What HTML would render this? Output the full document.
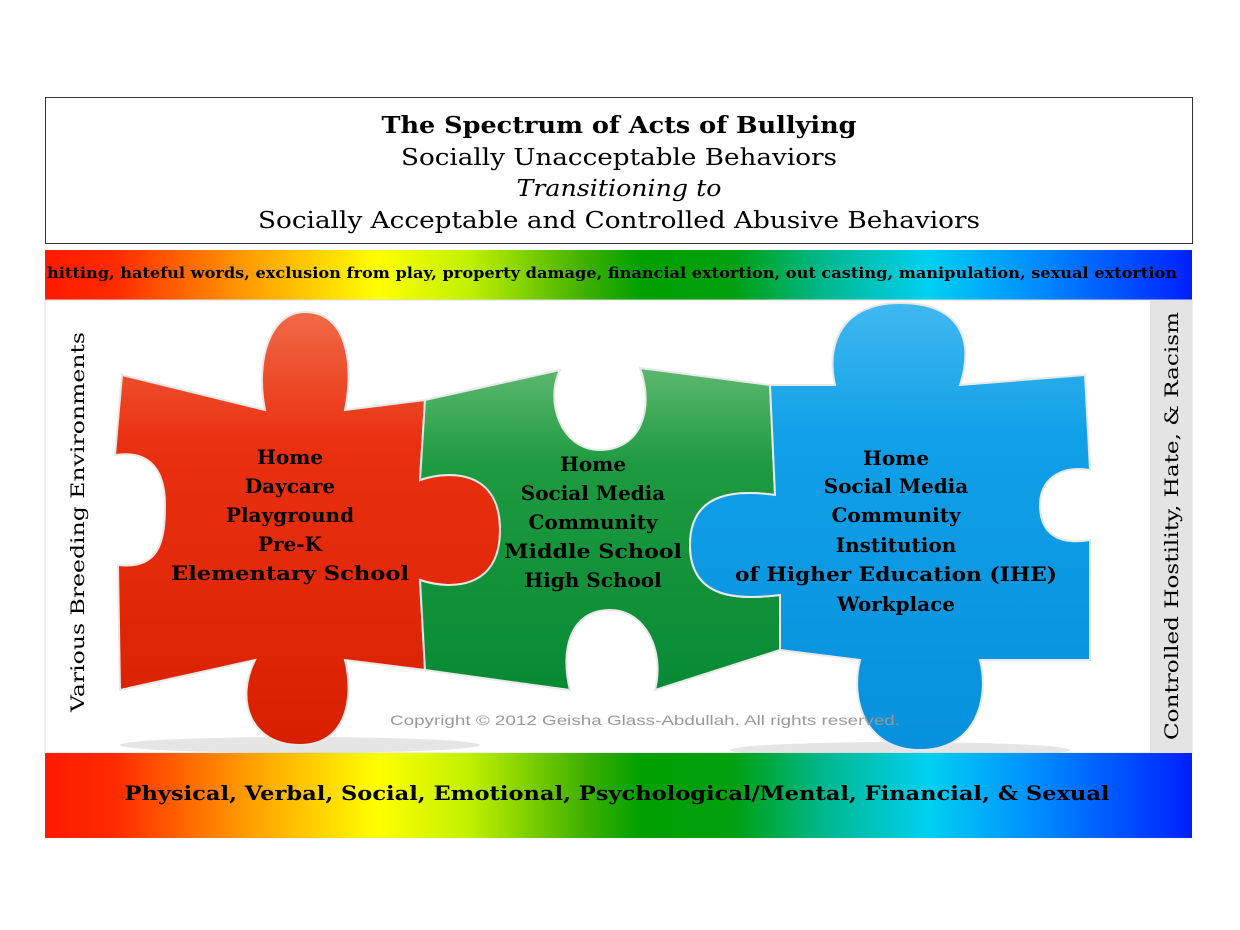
<!DOCTYPE html>
<html><head><meta charset="utf-8"><style>
html,body{margin:0;padding:0;background:#fff;}
svg{display:block;}
text{font-family:"DejaVu Serif","Liberation Serif",serif;}
</style></head><body>
<svg width="1240" height="930" viewBox="0 0 1240 930" xmlns="http://www.w3.org/2000/svg">
<defs>
<linearGradient id="rb" x1="0" x2="1" y1="0" y2="0">
<stop offset="0" stop-color="#ff1a00"/>
<stop offset="0.06" stop-color="#ff2a00"/>
<stop offset="0.18" stop-color="#ffa000"/>
<stop offset="0.29" stop-color="#ffff00"/>
<stop offset="0.37" stop-color="#c0f000"/>
<stop offset="0.47" stop-color="#40b000"/>
<stop offset="0.52" stop-color="#00a000"/>
<stop offset="0.60" stop-color="#00a010"/>
<stop offset="0.68" stop-color="#00b890"/>
<stop offset="0.77" stop-color="#00d0f0"/>
<stop offset="0.86" stop-color="#0090ff"/>
<stop offset="1" stop-color="#0020ff"/>
</linearGradient>
<linearGradient id="gr" x1="0" x2="0" y1="0" y2="1"><stop offset="0" stop-color="#f06a48"/><stop offset="0.3" stop-color="#ea3010"/><stop offset="1" stop-color="#d82000"/></linearGradient>
<linearGradient id="gg" x1="0" x2="0" y1="0" y2="1"><stop offset="0" stop-color="#5cb870"/><stop offset="0.3" stop-color="#1e9a40"/><stop offset="1" stop-color="#088a35"/></linearGradient>
<linearGradient id="gb" x1="0" x2="0" y1="0" y2="1"><stop offset="0" stop-color="#40b8f0"/><stop offset="0.3" stop-color="#10a0e8"/><stop offset="1" stop-color="#0890dc"/></linearGradient>
</defs>
<rect x="45.5" y="97.5" width="1147" height="146" fill="#fff" stroke="#333" stroke-width="1"/>
<text x="619" y="133" font-size="23" font-weight="bold" text-anchor="middle" textLength="475" lengthAdjust="spacingAndGlyphs">The Spectrum of Acts of Bullying</text>
<text x="619" y="165" font-size="23" text-anchor="middle" textLength="436" lengthAdjust="spacingAndGlyphs">Socially Unacceptable Behaviors</text>
<text x="619" y="196" font-size="23" font-style="italic" text-anchor="middle" textLength="205" lengthAdjust="spacingAndGlyphs">Transitioning to</text>
<text x="619" y="228" font-size="23" text-anchor="middle" textLength="722" lengthAdjust="spacingAndGlyphs">Socially Acceptable and Controlled Abusive Behaviors</text>
<rect x="45" y="250" width="1147" height="50" fill="url(#rb)"/>
<text x="612" y="278" font-size="15" font-weight="bold" text-anchor="middle" textLength="1130" lengthAdjust="spacingAndGlyphs">hitting, hateful words, exclusion from play, property damage, financial extortion, out casting, manipulation, sexual extortion</text>
<rect x="45" y="300" width="1147" height="453" fill="#fff" stroke="#ddd"/>
<rect x="1150" y="300" width="42" height="453" fill="#e4e4e4"/>
<ellipse cx="300" cy="745" rx="180" ry="8" fill="#ccc" opacity="0.5"/>
<ellipse cx="900" cy="750" rx="170" ry="8" fill="#ccc" opacity="0.5"/>
<path d="M122,375 L265,410 C255,360 270,312 305,312 C345,312 355,360 345,410 L425,400 L420,480 C450,470 500,470 500,530 C500,590 450,590 420,580 L425,670 L345,660 C355,700 345,745 300,745 C250,745 235,700 255,660 L120,690 L118,565 C160,570 165,540 165,505 C165,470 150,450 115,455 Z" fill="url(#gr)" stroke="#e8e8e8" stroke-width="2"/>
<path d="M425,400 L560,370 C545,400 560,450 600,450 C640,450 655,410 640,368 L770,385 L775,495 C740,490 690,490 690,545 C690,600 740,600 780,595 L780,650 L655,690 C665,650 645,610 610,610 C570,610 560,650 570,690 L425,670 L420,580 C450,590 500,590 500,530 C500,470 450,470 420,480 Z" fill="url(#gg)" stroke="#e8e8e8" stroke-width="2"/>
<path d="M770,385 L835,385 C825,340 845,303 900,303 C960,303 975,340 960,385 L1085,375 L1090,470 C1060,465 1040,480 1040,505 C1040,535 1060,545 1090,540 L1090,660 L980,660 C990,700 975,750 920,750 C865,750 850,700 860,660 L780,650 L780,595 C740,600 690,600 690,545 C690,490 740,490 775,495 Z" fill="url(#gb)" stroke="#e8e8e8" stroke-width="2"/>
<g font-size="20" font-weight="bold" text-anchor="middle">
<text x="290" y="464">Home</text><text x="290" y="493">Daycare</text><text x="290" y="522">Playground</text><text x="290" y="551">Pre-K</text><text x="290" y="580" textLength="238" lengthAdjust="spacingAndGlyphs">Elementary School</text>
<text x="593" y="471">Home</text><text x="593" y="500">Social Media</text><text x="593" y="529">Community</text><text x="593" y="558" textLength="178" lengthAdjust="spacingAndGlyphs">Middle School</text><text x="593" y="587">High School</text>
<text x="896" y="465">Home</text><text x="896" y="493">Social Media</text><text x="896" y="522">Community</text><text x="896" y="552">Institution</text><text x="896" y="581" textLength="322" lengthAdjust="spacingAndGlyphs">of Higher Education (IHE)</text><text x="896" y="611">Workplace</text>
</g>
<text x="645" y="725" font-size="14" fill="#999" text-anchor="middle" font-family="Liberation Sans,sans-serif" style="font-family:'Liberation Sans',sans-serif" textLength="510" lengthAdjust="spacingAndGlyphs">Copyright © 2012 Geisha Glass-Abdullah. All rights reserved.</text>
<text transform="translate(84,522) rotate(-90)" font-size="19" text-anchor="middle" textLength="380" lengthAdjust="spacingAndGlyphs">Various Breeding Environments</text>
<text transform="translate(1178,526) rotate(-90)" font-size="19" text-anchor="middle" textLength="428" lengthAdjust="spacingAndGlyphs">Controlled Hostility, Hate, &amp; Racism</text>
<rect x="45" y="753" width="1147" height="85" fill="url(#rb)"/>
<text x="617" y="800" font-size="20" font-weight="bold" text-anchor="middle" textLength="985" lengthAdjust="spacingAndGlyphs">Physical, Verbal, Social, Emotional, Psychological/Mental, Financial, &amp; Sexual</text>
</svg>
</body></html>
